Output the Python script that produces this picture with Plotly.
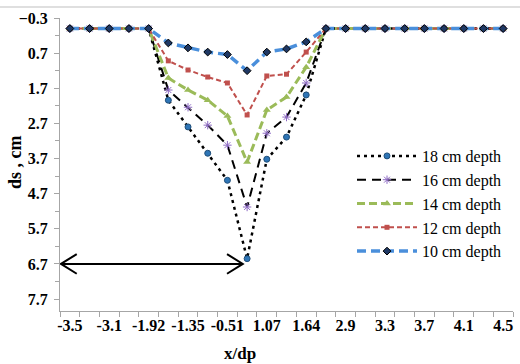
import plotly.graph_objects as go

# ---- data ----
categories = ["-3.5", "-3.3", "-3.1", "-2.9", "-1.92", "-1.64", "-1.35", "-1.07", "-0.51", "0",
              "1.07", "1.35", "1.64", "1.92", "2.9", "3.1", "3.3", "3.5", "3.7", "3.9", "4.1", "4.3", "4.5"]
shown_labels = ["-3.5", "-3.1", "-1.92", "-1.35", "-0.51", "1.07", "1.64", "2.9", "3.3", "3.7", "4.1", "4.5"]

flat_left = [0, 0, 0, 0, 0]
flat_right = [0] * 10
d18 = flat_left + [2.04, 2.80, 3.55, 4.32, 6.55, 3.72, 3.09, 1.89] + flat_right
d16 = flat_left + [1.75, 2.24, 2.75, 3.32, 5.08, 2.98, 2.52, 1.55] + flat_right
d14 = flat_left + [1.41, 1.75, 2.04, 2.49, 3.80, 2.32, 1.95, 1.10] + flat_right
d12 = flat_left + [0.92, 1.18, 1.38, 1.55, 2.46, 1.35, 1.30, 0.67] + flat_right
d10 = flat_left + [0.41, 0.55, 0.67, 0.74, 1.20, 0.67, 0.58, 0.38] + flat_right

names = ["18 cm depth", "16 cm depth", "14 cm depth", "12 cm depth", "10 cm depth"]

SERIF = "Liberation Serif"

styles = [
    dict(line=dict(color="black", width=2.5, dash="3px,4px"),
         marker=dict(symbol="circle", size=6, color="#2E75B6", line=dict(color="#1F4E79", width=1))),
    dict(line=dict(color="black", width=2, dash="9px,6px"),
         marker=dict(symbol="asterisk-open", size=7, color="#8E6BC4", line=dict(color="#8E6BC4", width=1))),
    dict(line=dict(color="#9BBB59", width=3, dash="8px,4px"),
         marker=dict(symbol="triangle-up", size=7, color="#9BBB59")),
    dict(line=dict(color="#C0504D", width=2, dash="5px,3px"),
         marker=dict(symbol="square", size=5, color="#C0504D")),
    dict(line=dict(color="#4A8FDB", width=3.5, dash="9px,5px"),
         marker=dict(symbol="diamond", size=6, color="#1F3864", line=dict(color="black", width=1))),
]

fig = go.Figure()
for name, vals, st in zip(names, [d18, d16, d14, d12, d10], styles):
    fig.add_trace(go.Scatter(x=categories, y=vals, mode="lines+markers", name=name,
                             line=st["line"], marker=st["marker"]))

ticktext = [c if c in shown_labels else "" for c in categories]

TICKFONT = dict(family=SERIF, size=16, color="black", weight="bold")

fig.update_layout(
    xaxis=dict(type="category", categoryorder="array", categoryarray=categories,
               tickmode="array", tickvals=categories, ticktext=ticktext, tickson="boundaries", tickangle=0,
               ticks="outside", ticklen=5, tickcolor="#A6A6A6",
               showline=True, linecolor="#A6A6A6", linewidth=1,
               showgrid=False, zeroline=False, range=[-0.5, len(categories) - 0.5],
               tickfont=TICKFONT),
    yaxis=dict(range=[8.04, -0.3], tick0=-0.3, dtick=1, tickformat=".1f",
               ticks="outside", ticklen=5, tickcolor="#A6A6A6", ticklabelstandoff=3,
               minor=dict(ticks="outside", dtick=0.5, tick0=-0.3, ticklen=4, tickcolor="#A6A6A6"),
               showline=True, linecolor="#A6A6A6", linewidth=1,
               showgrid=False, zeroline=False,
               tickfont=TICKFONT),
)

# double-headed arrow at ds = 6.7
arrow_y = 6.7
x_left, x_right = -0.45, 8.78
arm_dx, arm_dy = 0.8, 0.28
arrow_color = "black"
fig.add_shape(type="line", xref="x", yref="y", x0=x_left, x1=x_right, y0=arrow_y, y1=arrow_y,
              line=dict(color=arrow_color, width=2))
fig.add_shape(type="path", xref="x", yref="y",
              path=f"M{x_left+arm_dx},{arrow_y-arm_dy} L{x_left},{arrow_y} L{x_left+arm_dx},{arrow_y+arm_dy}",
              line=dict(color=arrow_color, width=2))
fig.add_shape(type="path", xref="x", yref="y",
              path=f"M{x_right-arm_dx},{arrow_y-arm_dy} L{x_right},{arrow_y} L{x_right-arm_dx},{arrow_y+arm_dy}",
              line=dict(color=arrow_color, width=2))

# top border line of chart area
fig.add_shape(type="line", xref="paper", yref="paper", x0=-60/453, x1=1 + 7/453,
              y0=1 + 11/293, y1=1 + 11/293, line=dict(color="#BFBFBF", width=1))

# axis titles
fig.add_annotation(text="<b>x/dp</b>", xref="paper", yref="paper", x=(240-60)/453, y=-(353-311)/293,
                   showarrow=False, font=dict(family=SERIF, size=17, color="black"),
                   xanchor="center", yanchor="middle")
fig.add_annotation(text="<b>ds , cm</b>", xref="paper", yref="paper", x=-(60-15)/453, y=(311-162)/293,
                   showarrow=False, textangle=-90, font=dict(family=SERIF, size=18, color="black"),
                   xanchor="center", yanchor="middle")

fig.update_layout(
    width=520, height=364,
    margin=dict(l=60, r=7, t=18, b=53),
    paper_bgcolor="white", plot_bgcolor="white",
    font=dict(family=SERIF, color="black"),
    showlegend=True,
    legend=dict(x=(352-60)/453, y=(311-139)/293, xanchor="left", yanchor="top",
                bgcolor="rgba(0,0,0,0)", font=dict(family=SERIF, size=16, color="black"),
                itemwidth=60, tracegroupgap=0),
)

fig.write_html("out.html")
